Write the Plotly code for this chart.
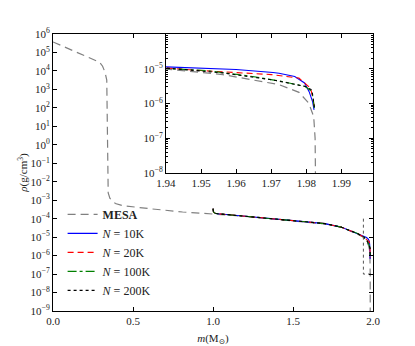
import plotly.graph_objects as go

SERIF = "Liberation Serif, DejaVu Serif, serif"

# MESA-profil (läst ur figuren)
mesa_m = [0.0, 0.06, 0.125, 0.2, 0.25, 0.29, 0.31, 0.325, 0.336, 0.338, 0.339, 0.340,
          0.345, 0.356, 0.39, 0.44, 0.52, 0.6, 0.81, 1.0, 1.1, 1.2, 1.4, 1.6, 1.7, 1.8,
          1.86, 1.9, 1.94, 1.9562, 1.9722, 1.9779, 1.9807, 1.9821, 1.9825, 1.9826, 1.9827]
mesa_rho = [3.7e5, 2.2e5, 1.35e5, 7.0e4, 4.6e4, 3.0e4, 1.8e4, 8.5e3, 3.2e3, 1.0e2, 1.0e0, 1.0e-2,
            2.5e-3, 1.26e-3, 6.6e-4, 5.0e-4, 4.0e-4, 3.5e-4, 2.3e-4, 1.86e-4, 1.55e-4, 1.32e-4,
            9.1e-5, 6.3e-5, 5.2e-5, 3.5e-5, 2.2e-5, 1.5e-5, 9.8e-6, 6.8e-6, 3.5e-6, 2.1e-6,
            1.02e-6, 4.2e-7, 1.0e-7, 1.0e-8, 1.0e-10]

# gemensam yttre del för simuleringarna (kurvorna ligger på varandra)
sim_m_outer = [1.0, 1.003, 1.015, 1.1, 1.2, 1.3, 1.4, 1.5, 1.6, 1.7, 1.8, 1.86, 1.9]
sim_rho_outer = [3.5e-4, 2.3e-4, 1.9e-4, 1.6e-4, 1.35e-4, 1.12e-4, 9.3e-5, 7.8e-5, 6.5e-5,
                 5.4e-5, 3.5e-5, 2.2e-5, 1.6e-5]

# ytterkanten per upplösning
n10k_m = [1.94, 1.95, 1.96, 1.9705, 1.9722, 1.9767, 1.9795, 1.9808, 1.9818, 1.9822]
n10k_rho = [1.10e-5, 1.02e-5, 9.5e-6, 7.8e-6, 7.4e-6, 6.0e-6, 3.9e-6, 2.2e-6, 1.12e-6, 6.6e-7]
n20k_m = [1.94, 1.95, 1.9609, 1.97, 1.9779, 1.9812, 1.9819, 1.9823]
n20k_rho = [1.05e-5, 8.9e-6, 7.6e-6, 6.8e-6, 5.4e-6, 2.75e-6, 1.4e-6, 7.4e-7]
n100k_m = [1.94, 1.9515, 1.9647, 1.9731, 1.9797, 1.9816, 1.9823]
n100k_rho = [1.05e-5, 8.9e-6, 6.0e-6, 4.3e-6, 3.1e-6, 2.2e-6, 7.4e-7]
n200k_m = [1.94, 1.9562, 1.9703, 1.9797, 1.9816, 1.9823]
n200k_rho = [1.05e-5, 7.6e-6, 4.8e-6, 3.1e-6, 2.45e-6, 7.9e-7]

main_ticks = list(range(-9, 7))
inset_ticks = [-8, -7, -6, -5]
inset_xticks = [1.94, 1.95, 1.96, 1.97, 1.98, 1.99]
box_m = [1.94, 1.94, 2.0]
box_rho = [1e-4, 1e-7, 1e-7]


def pow_label(p):
    return "10<sup>%s%d</sup>" % ("−" if p < 0 else "", abs(p))


series = [
    ("<i>N</i> = 10K", n10k_m, n10k_rho, "blue", "solid"),
    ("<i>N</i> = 20K", n20k_m, n20k_rho, "red", "6px,4px"),
    ("<i>N</i> = 100K", n100k_m, n100k_rho, "green", "dashdot"),
    ("<i>N</i> = 200K", n200k_m, n200k_rho, "black", "dot"),
]

fig = go.Figure()

fig.add_trace(go.Scatter(x=mesa_m, y=mesa_rho, mode="lines", name="<b>MESA</b>",
                         line=dict(color="gray", width=1.2, dash="8px,5px")))
for name, m, rho, col, dash in series:
    fig.add_trace(go.Scatter(x=sim_m_outer + m, y=sim_rho_outer + rho, mode="lines", name=name,
                             line=dict(color=col, width=1.1, dash=dash)))
fig.add_trace(go.Scatter(x=box_m, y=box_rho, mode="lines", showlegend=False,
                         line=dict(color="#555555", width=1, dash="dot")))

# inzoomad panel
fig.add_trace(go.Scatter(x=mesa_m, y=mesa_rho, mode="lines", showlegend=False,
                         xaxis="x2", yaxis="y2",
                         line=dict(color="gray", width=1.2, dash="8px,5px")))
for name, m, rho, col, dash in series:
    fig.add_trace(go.Scatter(x=sim_m_outer + m, y=sim_rho_outer + rho, mode="lines",
                             showlegend=False, xaxis="x2", yaxis="y2",
                             line=dict(color=col, width=1.1, dash=dash)))

ax_common = dict(showline=True, linecolor="black", linewidth=1, mirror="ticks",
                 ticks="inside", ticklen=4, tickcolor="black", showgrid=False,
                 zeroline=False, automargin=False,
                 tickfont=dict(family=SERIF, size=11, color="#222"))

# sidan har 8 px marginal i webbläsaren, därför lite mindre figur
fig.update_layout(
    width=407, height=338,
    margin=dict(l=45, r=42, t=26, b=35),
    paper_bgcolor="white", plot_bgcolor="white",
    font=dict(family=SERIF, size=11, color="#222"),
    xaxis=dict(range=[0, 2.0], tickvals=[0, 0.5, 1.0, 1.5, 2.0],
               ticktext=["0.0", "0.5", "1.0", "1.5", "2.0"],
               title=dict(text="<i>m</i>(M<sub>⊙</sub>)", standoff=10,
                          font=dict(family=SERIF, size=11)),
               **ax_common),
    yaxis=dict(type="log", range=[-9, 6], tickvals=[10.0 ** p for p in main_ticks],
               ticktext=[pow_label(p) for p in main_ticks],
               title=dict(text="<i>ρ</i>(g/cm<sup>3</sup>)", standoff=0,
                          font=dict(family=SERIF, size=11)),
               **ax_common),
    xaxis2=dict(domain=[0.353, 1.0], anchor="y2", range=[1.94, 1.999],
                tickvals=inset_xticks, ticktext=["%.2f" % v for v in inset_xticks],
                **ax_common),
    yaxis2=dict(domain=[0.498, 1.0], anchor="x2", type="log", range=[-8, -4],
                tickvals=[10.0 ** p for p in inset_ticks],
                ticktext=[pow_label(p) for p in inset_ticks],
                minor=dict(ticks="inside", ticklen=2, tickcolor="black", dtick="D1"),
                **ax_common),
    legend=dict(x=0.03, y=0.401, xanchor="left", yanchor="top",
                bgcolor="rgba(0,0,0,0)", font=dict(family=SERIF, size=12, color="#222"),
                tracegroupgap=0),
    showlegend=True,
)

fig.write_html("out.html")
